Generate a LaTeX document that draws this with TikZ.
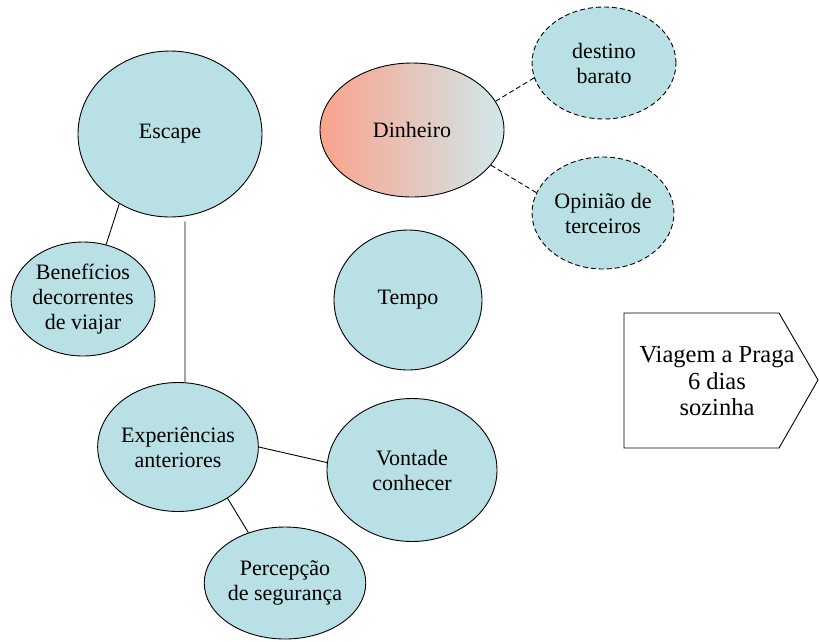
\documentclass[tikz,border=0pt]{standalone}
\usepackage{fontspec}
\setmainfont{Liberation Serif}
\usepackage{tikz}
\usetikzlibrary{shapes.geometric,positioning}

\definecolor{bubble}{RGB}{185,224,228}
\definecolor{moneyleft}{RGB}{250,163,140}
\definecolor{moneymid}{RGB}{226,220,219}
\definecolor{moneyright}{RGB}{208,232,235}

\begin{document}
\begin{tikzpicture}[x=1pt,y=-1pt,on grid,
        bubble/.style={ellipse,draw,line width=0.9pt,fill=bubble,inner sep=0pt,
            align=center,font=\fontsize{22}{25}\selectfont},
        dashbubble/.style={bubble,dash pattern=on 5pt off 3pt}]
        \useasboundingbox (0,0) rectangle (819,641);
        \node[bubble,minimum width=184pt,minimum height=166pt] (escape) at (170,134) {Escape};
        \node[bubble,minimum width=184pt,minimum height=134pt,
            left color=moneyleft,middle color=moneymid,right color=moneyright] (money) at (412,130) {Dinheiro};
        \node[dashbubble,minimum width=144pt,minimum height=112pt] (cheap) [above right=67pt and 192pt of money] {destino\\barato};
        \node[dashbubble,minimum width=142pt,minimum height=112pt] (opinion) [below right=83pt and 191pt of money] {Opinião de\\terceiros};
        \node[bubble,minimum width=148pt,minimum height=140pt] (time) at (408,300) {Tempo};
        \node[bubble,minimum width=144pt,minimum height=114pt] (benefits) at (83,299) {Benefícios\\decorrentes\\de viajar};
        \node[bubble,minimum width=156pt,minimum height=129pt] (past) at (178,447) {Experiências\\anteriores};
        \node[bubble,minimum width=170pt,minimum height=143pt] (wish) at (412,470) {Vontade\\conhecer};
        \node[bubble,minimum width=144pt,minimum height=112pt] (safety) at (285,583) {Percepção\\de segurança};
        \node[align=center,font=\fontsize{24.5}{26.5}\selectfont] (trip) at (717,381) {Viagem a Praga\\6 dias\\sozinha};
        \draw[line width=0.9pt] (624,313) -- (779,313) -- (818,380) -- (779,448) -- (624,448) -- cycle;
        \path[draw,line width=0.9pt]
        (escape.234) -- (benefits.67)
        ([xshift=15pt,yshift=-4pt]escape.south) -- ([xshift=7pt]past.north)
        (past.east) -- (wish.175)
        (past.314) -- (safety.126);
        \path[draw,line width=0.9pt,dash pattern=on 5pt off 3pt]
        (money.19) -- (cheap.192)
        (money.336) -- (opinion.163);
    \end{tikzpicture}
\end{document}
